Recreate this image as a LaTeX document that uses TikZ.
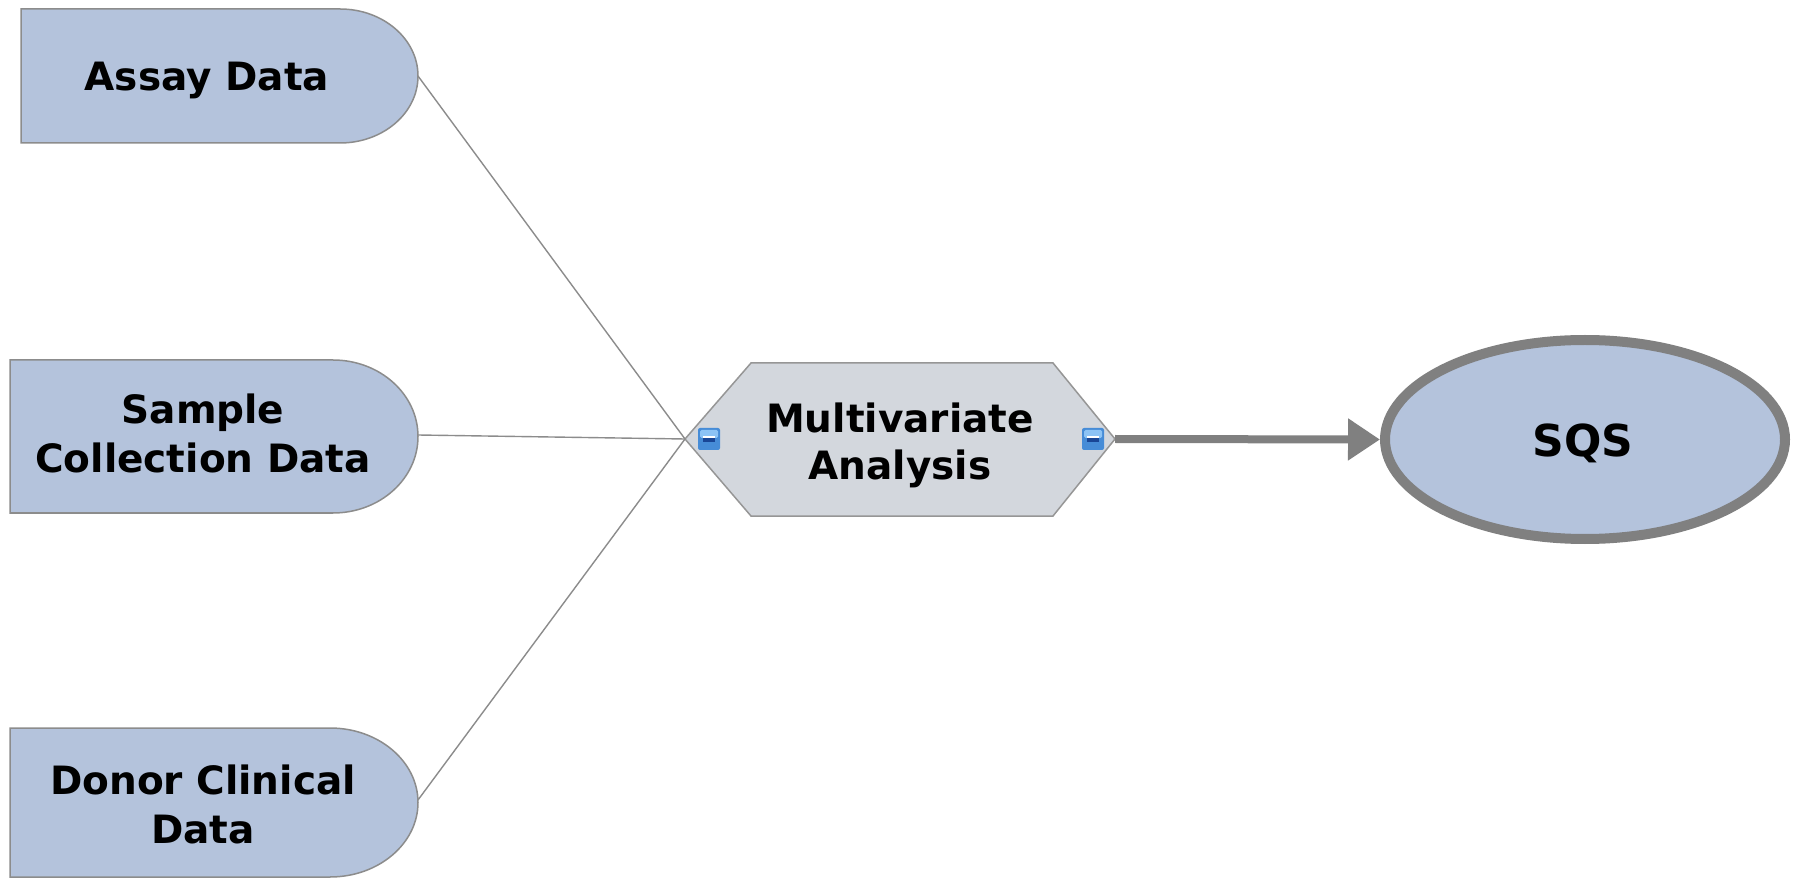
\documentclass[tikz,border=0pt]{standalone}
\usepackage{fontspec}
\setmainfont{DejaVu Sans}
\usetikzlibrary{arrows.meta}
\definecolor{boxfill}{RGB}{180,195,220}
\definecolor{boxline}{RGB}{140,140,140}
\definecolor{hexfill}{RGB}{211,215,221}
\definecolor{hexline}{RGB}{150,150,150}
\definecolor{flowgray}{RGB}{128,128,128}
\definecolor{linkgray}{RGB}{140,140,140}
\definecolor{iconblue}{RGB}{70,140,215}
\definecolor{iconlight}{RGB}{140,195,245}
\definecolor{icondark}{RGB}{25,70,150}
\tikzset{
  databox/.style={fill=boxfill, draw=boxline, line width=1.5pt},
  hexbox/.style={fill=hexfill, draw=hexline, line width=1.5pt},
  label/.style={font=\bfseries\fontsize{39}{49}\selectfont, align=center, inner sep=0pt},
  link/.style={draw=linkgray, line width=1.4pt},
  flow/.style={draw=flowgray, line width=8pt, -{Triangle[length=32pt,width=40pt]}},
  result/.style={ellipse, fill=boxfill, draw=flowgray, line width=10pt,
    minimum width=400pt, minimum height=199pt, inner sep=0pt}
}
\usetikzlibrary{shapes.geometric}
\newcommand{\portglyph}[2]{%
  \fill[iconblue, rounded corners=2pt] (#1,#2) rectangle ++(22,22);
  \fill[iconlight, rounded corners=1.5pt] (#1+2,#2+12) rectangle ++(18,8);
  \fill[white] (#1+5,#2+12) rectangle ++(12,2);
  \fill[icondark] (#1+5,#2+8) rectangle ++(12,4);
}
\begin{document}
\begin{tikzpicture}[x=1pt,y=1pt]
\useasboundingbox (0,0) rectangle (1798,879);
\fill[white] (0,0) rectangle (1798,879);

% input data sources: rectangles with a rounded right end
\draw[databox] (21,870) -- (340,870)
  arc[start angle=90, end angle=-90, x radius=78, y radius=67] -- (21,736) -- cycle;
\draw[databox] (10,519) -- (333,519)
  arc[start angle=90, end angle=-90, x radius=85, y radius=76.5] -- (10,366) -- cycle;
\draw[databox] (10,151) -- (330,151)
  arc[start angle=90, end angle=-90, x radius=88, y radius=74.5] -- (10,2) -- cycle;

\coordinate (assay-e) at (418,803);
\coordinate (sample-e) at (418,444);
\coordinate (donor-e) at (418,79);

\node[label, anchor=base] (assay) at (207,788) {Assay Data};
\node[label] (sample) at (203,446) {Sample\\Collection Data};
\node[label] (donor) at (203,75) {Donor Clinical\\Data};

% analysis step
\draw[hexbox] (685,440) -- (751,516) -- (1053,516) -- (1115,440)
  -- (1053,363) -- (751,363) -- cycle;
\coordinate (mv-w) at (685,440);
\coordinate (mv-e) at (1115,440);
\node[label, font=\bfseries\fontsize{39}{47}\selectfont] (mv) at (900,434)
  {Multivariate\\Analysis};
\portglyph{698}{429}
\portglyph{1082}{429}

% links from the sources
\draw[link] (assay-e) -- (mv-w);
\draw[link] (sample-e) -- (mv-w);
\draw[link] (donor-e) -- (mv-w);

% outcome
\node[result] (sqs) at (1585,439.5) {};
\node[label, font=\bfseries\fontsize{44}{50}\selectfont, anchor=base] (sqstext) at (1583,422) {SQS};
\draw[flow] (mv-e) -- (sqs.west);
\end{tikzpicture}
\end{document}
